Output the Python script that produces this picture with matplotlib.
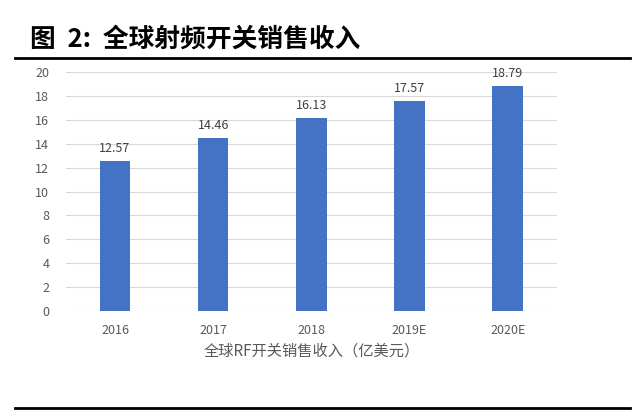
import matplotlib.pyplot as plt
import numpy as np

plt.rcParams['font.family'] = ['Noto Sans CJK SC', 'DejaVu Sans']

# data
years = ['2016', '2017', '2018', '2019E', '2020E']
sales = [12.57, 14.46, 16.13, 17.57, 18.79]
yticks = list(range(0, 22, 2))

title = '图  2:  全球射频开关销售收入'
xlabel = '全球RF开关销售收入（亿美元）'

fig = plt.figure(figsize=(6.4, 4.11), dpi=100)
ax = fig.add_axes([0.103, 0.2433, 0.767, 0.5815])

x = np.arange(len(years))
ax.bar(x, sales, width=0.31, color='#4472C4', zorder=3)
for xi, v in zip(x, sales):
    ax.text(xi, v + 0.5, '%.2f' % v, ha='center', va='bottom', fontsize=9, color='#404040')

ax.set_xlim(-0.5, len(years) - 0.5)
ax.set_ylim(0, 20)
ax.set_yticks(yticks)
ax.set_xticks(x)
ax.set_xticklabels(years)
ax.tick_params(axis='both', length=0, labelsize=9, colors='#595959')
ax.tick_params(axis='y', pad=12)
ax.tick_params(axis='x', pad=9)
ax.grid(axis='y', color='#d9d9d9', linewidth=0.8, zorder=0)
for s in ax.spines.values():
    s.set_visible(False)
ax.set_xlabel(xlabel, fontsize=11, color='#595959', labelpad=4)

# header / footer
fig.text(0.047, 0.905, title, fontsize=18.5, fontweight='bold', color='black', va='center')
fig.add_artist(plt.Line2D([0.023, 0.984], [0.859, 0.859], color='black', linewidth=2))
fig.add_artist(plt.Line2D([0.023, 0.984], [0.008, 0.008], color='black', linewidth=2))

fig.savefig('out.png', dpi=100)
